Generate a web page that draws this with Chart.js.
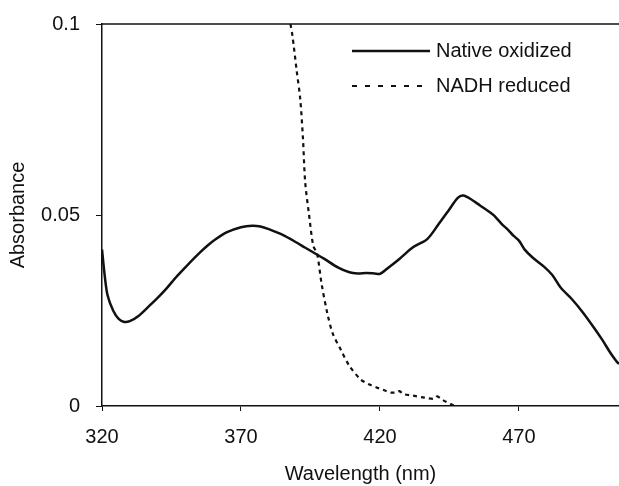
<!DOCTYPE html>
<html>
<head>
<meta charset="utf-8">
<script src="https://cdn.jsdelivr.net/npm/chart.js@4/dist/chart.umd.min.js"></script>
<style>
html,body{margin:0;padding:0;background:#fff;}
#wrap{width:619px;height:486px;position:relative;}
</style>
</head>
<body>
<div id="wrap"><canvas id="c" width="619" height="486"></canvas></div>
<script>
// Data
const oxWavelength = [320,321,322,324,326,328,330,333,337,340,343,347,350.5,355,358,361,365,370,374,377,380,385,390,393,397,400,405,409,412,415,418,420,423,427,432,437,441,445,448,450,453,456,459,461,464,466,468,470,472,475,479,482,485,489,493,497,500,503,505,506];
const oxAbsorbance = [0.041,0.034,0.029,0.025,0.0228,0.022,0.0222,0.0235,0.0262,0.0283,0.0306,0.034,0.0367,0.040,0.042,0.0437,0.0455,0.0468,0.0472,0.047,0.0463,0.0448,0.0428,0.0415,0.0398,0.0385,0.0362,0.035,0.0347,0.0348,0.0347,0.0346,0.0362,0.0385,0.0416,0.0437,0.0475,0.0515,0.0545,0.0551,0.054,0.0525,0.051,0.0499,0.0475,0.0462,0.0446,0.0433,0.041,0.0388,0.0365,0.0343,0.031,0.028,0.0245,0.0205,0.0173,0.0138,0.0118,0.011];
const redWavelength = [387.8,388.5,390,391.3,392.3,393.1,394.5,396,397.4,399,401,403,405.8,409,413,416,419,422,424,426,427,428.5,432,436,439.4,440.6,442.5,445.4,447];
const redAbsorbance = [0.1,0.097,0.088,0.0805,0.07,0.0586,0.05,0.042,0.0398,0.032,0.0245,0.019,0.0149,0.0105,0.007,0.0057,0.0048,0.004,0.0035,0.0036,0.0039,0.0031,0.0027,0.0022,0.0019,0.0025,0.0016,0.0005,0.0];
const seriesNames = ['Native oxidized','NADH reduced'];
const xTicks = [320,370,420,470];
const yTicks = [0,0.05,0.1];
const xTitle = 'Wavelength (nm)';
const yTitle = 'Absorbance';

const FONT = "'Liberation Sans', Arial, sans-serif";
const INK = '#111';

function pts(xs, ys){ return xs.map((x,i)=>({x:x,y:ys[i]})); }

const topBorder = {
  id:'topBorder',
  afterDraw(chart){
    const {ctx, chartArea:a} = chart;
    ctx.save();
    ctx.strokeStyle = INK; ctx.lineWidth = 1.5;
    ctx.beginPath(); ctx.moveTo(a.left, a.top); ctx.lineTo(a.right, a.top); ctx.stroke();
    ctx.restore();
  }
};
const customLegend = {
  id:'customLegend',
  afterDraw(chart){
    const ctx = chart.ctx;
    ctx.save();
    ctx.font = '20px ' + FONT;
    ctx.textBaseline = 'middle';
    ctx.fillStyle = INK;
    const rows = [51, 86];
    chart.data.datasets.forEach((ds,i)=>{
      const y = rows[i];
      ctx.strokeStyle = ds.borderColor;
      ctx.lineWidth = ds.borderWidth;
      ctx.setLineDash(i === 1 ? [5,8] : []);
      ctx.beginPath(); ctx.moveTo(352, y); ctx.lineTo(430, y); ctx.stroke();
      ctx.setLineDash([]);
      ctx.fillText(ds.label, 436, y);
    });
    ctx.restore();
  }
};

new Chart(document.getElementById('c'), {
  type:'line',
  data:{
    datasets:[
      {label:seriesNames[0], data:pts(oxWavelength, oxAbsorbance), borderColor:INK, borderWidth:2.5, pointRadius:0, tension:0.3, fill:false},
      {label:seriesNames[1], data:pts(redWavelength, redAbsorbance), borderColor:INK, borderWidth:2.2, borderDash:[4,4], pointRadius:0, tension:0.3, fill:false}
    ]
  },
  options:{
    responsive:false,
    animation:false,
    layout:{padding:{top:24,right:0,left:0,bottom:0}},
    plugins:{legend:{display:false}, tooltip:{enabled:false}},
    scales:{
      x:{
        type:'linear', min:320, max:506,
        afterBuildTicks(s){ s.ticks = xTicks.map(v=>({value:v})); },
        afterFit(s){ s.height = 80; s.paddingRight = 0; },
        ticks:{color:INK, font:{family:FONT, size:20}, padding:14, maxRotation:0, callback:v=>String(v)},
        grid:{display:true, drawOnChartArea:false, tickLength:5, color:INK},
        border:{color:INK, width:1.5},
        title:{display:true, text:xTitle, color:INK, font:{family:FONT, size:20}, padding:{top:6,bottom:0}}
      },
      y:{
        min:0, max:0.1,
        afterBuildTicks(s){ s.ticks = yTicks.map(v=>({value:v})); },
        afterFit(s){ s.width = 102; s.paddingTop = 0; s.paddingBottom = 0; },
        ticks:{color:INK, font:{family:FONT, size:20}, padding:16, callback:v=>String(v)},
        grid:{display:true, drawOnChartArea:false, tickLength:6, color:INK},
        border:{color:INK, width:1.5},
        title:{display:true, text:yTitle, color:INK, font:{family:FONT, size:20}, padding:{top:6,bottom:0}}
      }
    }
  },
  plugins:[topBorder, customLegend, {id:'bg', beforeDraw(c){const x=c.ctx; x.save(); x.fillStyle='#fff'; x.fillRect(0,0,c.width,c.height); x.restore();}}]
});
</script>
</body>
</html>
